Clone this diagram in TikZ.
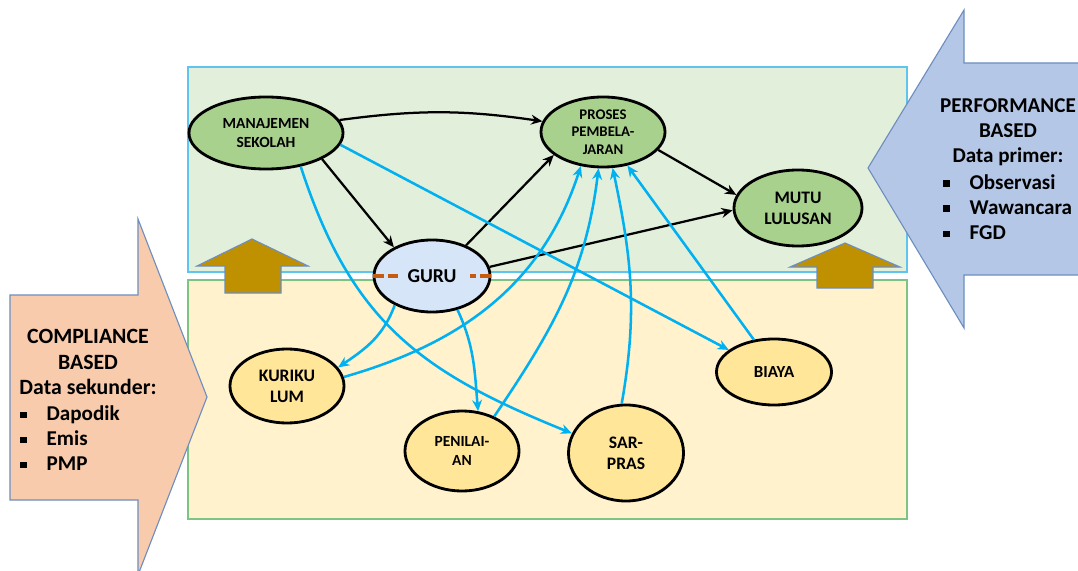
\documentclass[tikz,border=0pt]{standalone}
\usepackage{fontspec}
\setmainfont{Carlito}
\usepackage{tikz}
\usetikzlibrary{shapes.geometric,arrows.meta}
\definecolor{greenbg}{HTML}{E2EFDA}
\definecolor{greenline}{HTML}{5FC4EE}
\definecolor{yellowbg}{HTML}{FFF2CC}
\definecolor{yellowline}{HTML}{7DC383}
\definecolor{nodegreen}{HTML}{A9D18E}
\definecolor{nodeyellow}{HTML}{FFE699}
\definecolor{nodeguru}{HTML}{D6E5F7}
\definecolor{cyanline}{HTML}{00B0F0}
\definecolor{orangedash}{HTML}{C55A11}
\definecolor{peach}{HTML}{F8CBAD}
\definecolor{bluearrow}{HTML}{B4C7E7}
\definecolor{arrowline}{HTML}{6D8EBF}
\definecolor{brownarrow}{HTML}{BF9000}
\tikzstyle{elnode} = [ellipse, draw=black, line width=2pt, inner sep=0pt, align=center]
\tikzstyle{greennode} = [elnode, fill=nodegreen]
\tikzstyle{yellownode} = [elnode, fill=nodeyellow]
\tikzstyle{blackedge} = [-{Stealth[length=8pt,width=7pt]}, line width=1.6pt, black]
\tikzstyle{blueedge} = [-{Stealth[length=8pt,width=7pt]}, line width=1.8pt, cyanline]
\tikzstyle{bigarrow} = [draw=arrowline, line width=0.8pt]
\tikzstyle{sidetext} = [font=\fontsize{15}{17.8}\selectfont\bfseries, inner sep=0pt]
\tikzstyle{gurudash} = [orangedash, line width=2.2pt, dash pattern=on 8pt off 3pt]
\newcommand{\sqbul}{\rule[0.12em]{0.3em}{0.3em}\hspace{0.95em}}
\newcommand{\nf}[1]{\fontsize{#1}{1.2\dimexpr#1pt\relax}\selectfont\bfseries}

\begin{document}
\begin{tikzpicture}[x=0.025cm, y=0.025cm]
  \useasboundingbox (0,0) rectangle (1078,-571);
  % two regions
  \draw[fill=greenbg, draw=greenline, line width=0.8pt] (188,-67) rectangle (907,-272);
  \draw[fill=yellowbg, draw=yellowline, line width=0.8pt] (188,-280) rectangle (907,-519);
  % side arrows
  \draw[bigarrow, fill=peach] (10,-295) -- (138,-295) -- (138,-219) -- (207,-397)
    -- (138,-575) -- (138,-500) -- (10,-500) -- cycle;
  \draw[bigarrow, fill=bluearrow] (1090,-63) -- (964,-63) -- (964,-10) -- (868,-168)
    -- (964,-328) -- (964,-275) -- (1090,-275) -- cycle;
  \draw[bigarrow, fill=brownarrow] (252,-239) -- (308,-266) -- (281,-266) -- (281,-293)
    -- (225,-293) -- (225,-266) -- (197,-266) -- cycle;
  \draw[bigarrow, fill=brownarrow] (845,-243) -- (900,-267) -- (873,-267) -- (873,-288)
    -- (817,-288) -- (817,-267) -- (790,-267) -- cycle;
  % side texts
  \node[sidetext, align=center, font=\fontsize{15.5}{18}\selectfont\bfseries] (comptitle) at (88,-362) {COMPLIANCE\\BASED\\Data sekunder:};
  \node[sidetext, align=left, anchor=west] (complist) at (20,-438) {\sqbul Dapodik\\\sqbul Emis\\\sqbul PMP};
  \node[sidetext, align=center] (perftitle) at (1008,-132) {PERFORMANCE\\BASED\\Data primer:};
  \node[sidetext, align=left, anchor=west] (perflist) at (943,-207) {\sqbul Observasi\\\sqbul Wawancara\\\sqbul FGD};
  % factors
  \node[greennode, minimum width=3.85cm, minimum height=1.8cm, font=\nf{11}] (mgmt) at (266,-133) {MANAJEMEN\\SEKOLAH};
  \node[greennode, minimum width=3.1cm, minimum height=1.75cm, font=\nf{10.5}] (proses) at (603,-132) {PROSES\\PEMBELA-\\JARAN};
  \node[greennode, minimum width=3.2cm, minimum height=1.9cm, font=\nf{12.5}] (mutu) at (798,-208) {MUTU\\LULUSAN};
  \node[elnode, fill=nodeguru, minimum width=2.9cm, minimum height=1.8cm, font=\nf{14}] (guru) at (432,-276) {GURU};
  \node[yellownode, minimum width=2.85cm, minimum height=1.85cm, font=\nf{12.5}] (kurik) at (287,-386) {KURIKU\\LUM};
  \node[yellownode, minimum width=2.85cm, minimum height=2cm, font=\nf{11}] (penil) at (462,-451) {PENILAI-\\AN};
  \node[yellownode, minimum width=2.875cm, minimum height=2.4cm, font=\nf{12.5}] (sarpras) at (626,-453) {SAR-\\PRAS};
  \node[yellownode, minimum width=2.875cm, minimum height=1.65cm, font=\nf{12}] (biaya) at (774,-372) {BIAYA};
  \draw[gurudash] (guru.west) -- ++(25,0);
  \draw[gurudash] (guru.east) -- ++(-21,0);
  % black links
  \draw[blackedge] (mgmt.10) to[bend left=8] (proses.170);
  \draw[blackedge] (mgmt.-25) -- (guru.143);
  \draw[blackedge] (guru.42) -- (proses.205);
  \draw[blackedge] (guru.9) -- (mutu.182);
  \draw[blackedge] (proses.-18) -- (mutu.168);
  % blue links
  \draw[blueedge] (mgmt.-44) to[out=-72,in=158,looseness=1.1] (sarpras.160);
  \draw[blueedge] (mgmt.-9) -- (biaya.154);
  \draw[blueedge] (guru.218) to[out=-110,in=34] (kurik.20);
  \draw[blueedge] (guru.-53) to[out=-65,in=95] (penil.68);
  \draw[blueedge] (kurik.9) to[out=16,in=-108] (proses.-123);
  \draw[blueedge] (penil.47) to[out=56,in=-97] (proses.-97);
  \draw[blueedge] (sarpras.95) to[out=80,in=-78] (proses.-75);
  \draw[blueedge] (biaya.122) -- (proses.-54);
\end{tikzpicture}
\end{document}
